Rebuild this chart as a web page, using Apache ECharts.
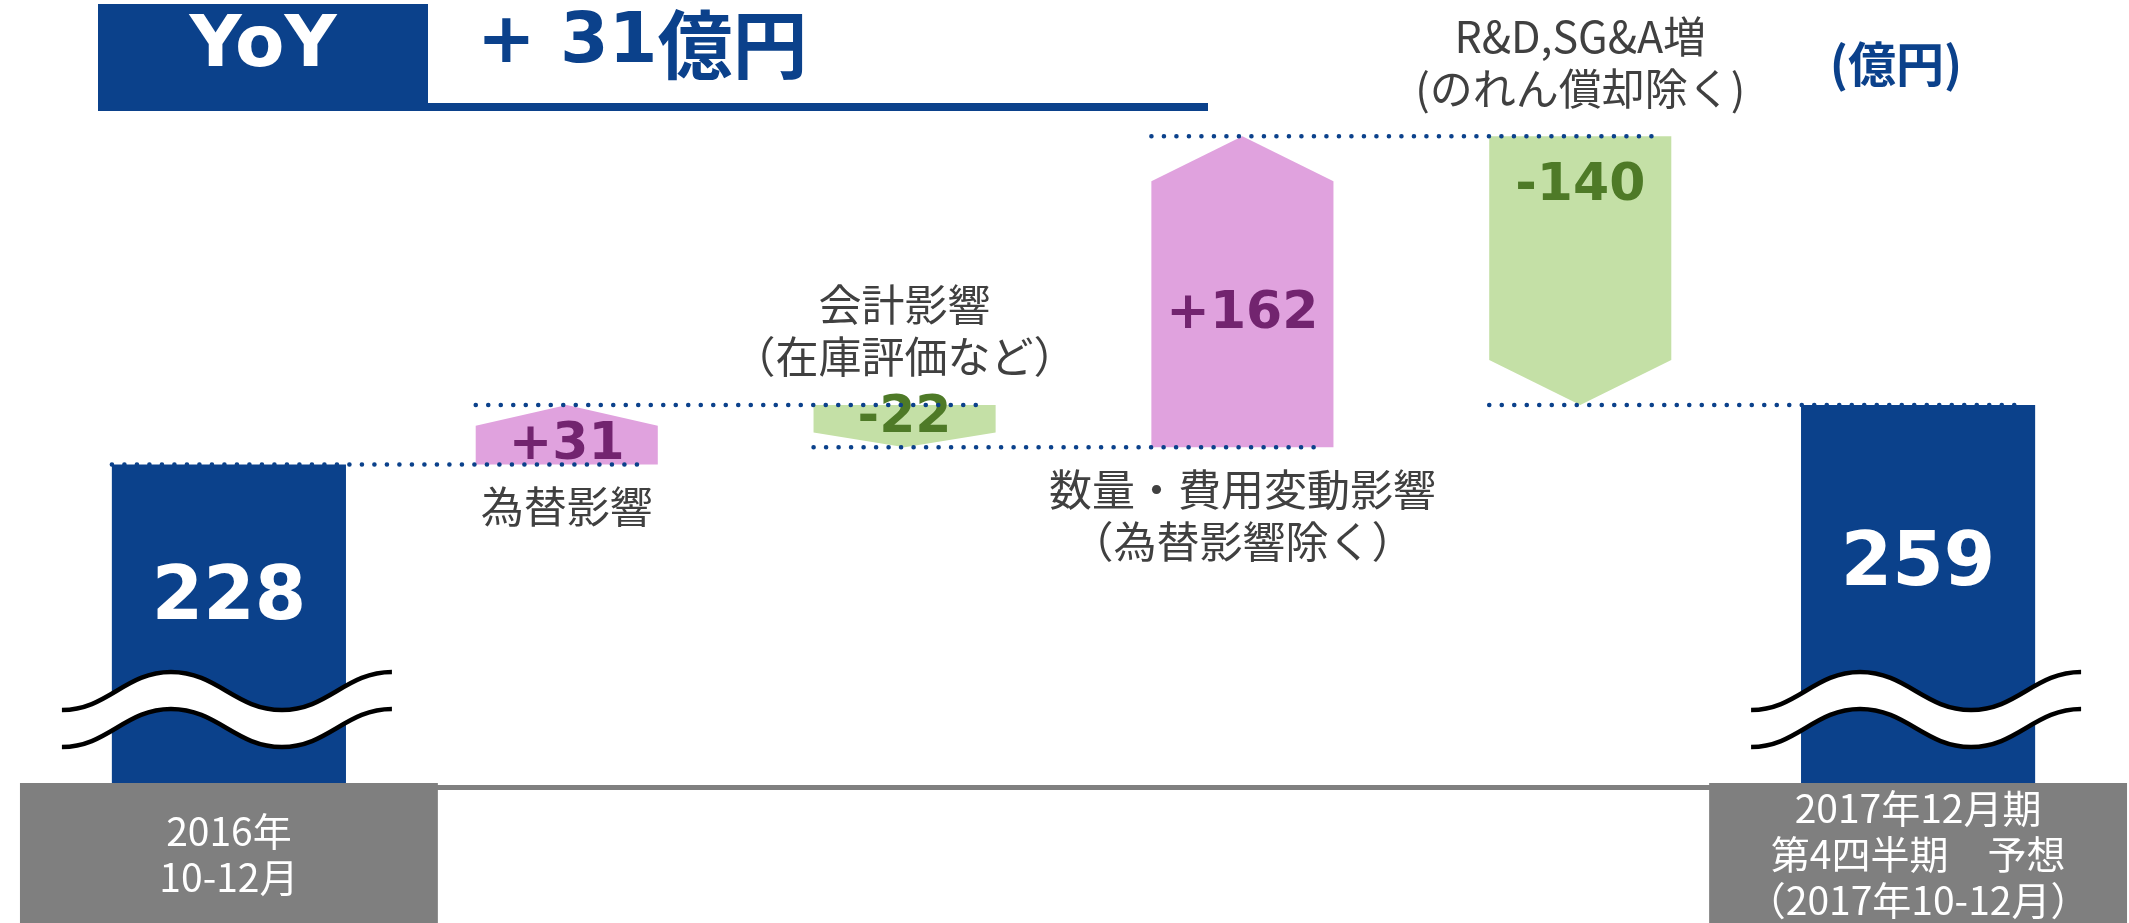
<!DOCTYPE html>
<html>
<head>
<meta charset="utf-8">
<script src="https://cdn.jsdelivr.net/npm/echarts@6.0.0/dist/echarts.min.js"></script>
<style>
html,body{margin:0;padding:0;background:#ffffff;}
#chart{width:2129px;height:923px;}
</style>
</head>
<body>
<div id="chart"></div>
<script>
// ---------- data ----------
const categories = [
  '2016年\n10-12月',
  '為替影響',
  '会計影響\n（在庫評価など）',
  '数量・費用変動影響\n（為替影響除く）',
  'R&D,SG&A増\n(のれん償却除く)',
  '2017年12月期\n第4四半期　予想\n（2017年10-12月）'
];
const startValue = 228;
const changeValues = [31, -22, 162, -140];
const endValue = 259;
const unitText = '(億円)';
const headlineTag = 'YoY';

// ---------- style ----------
const NAVY = '#0b418b', PINK = '#e0a2de', GREEN = '#c4e0a6';
const PURPLE = '#72246f', DKGREEN = '#4e7a27', GRAY = '#7f7f7f', TXT = '#404040';
const CJK = '"Noto Sans CJK JP", "Noto Sans", sans-serif';
const NUM = '"DejaVu Sans", Verdana, sans-serif';
const Y_MIN = 60, Y_MAX = 420;
const TOTAL_W = 0.693, STEP_W = 0.539;

// ---------- derived ----------
const levels = [startValue];
changeValues.forEach(v => levels.push(levels[levels.length - 1] + v));
const lastIdx = categories.length - 1;
const totalData = [[0, startValue], [lastIdx, endValue]];
const stepData = changeValues.map((v, i) => [i + 1, levels[i], levels[i + 1], v]);
const connectorData = levels.map((lv, i) => [i, lv]);
const footData = [[0], [lastIdx]];

function textEl(text, x, y, va, opt) {
  return {
    type: 'text',
    style: Object.assign({
      text: text, x: x, y: y,
      align: 'center', textAlign: 'center',
      verticalAlign: va, textVerticalAlign: va
    }, opt)
  };
}

function curveD(pts, k, first) {
  let d = (first ? 'M' : 'L') + pts[0][0] + ' ' + pts[0][1];
  for (let i = 1; i < pts.length; i++) {
    const a = pts[i - 1], b = pts[i], dx = b[0] - a[0];
    d += ' C' + (a[0] + k * dx) + ' ' + a[1] + ' ' + (b[0] - k * dx) + ' ' + b[1] + ' ' + b[0] + ' ' + b[1];
  }
  return d;
}

function breakSymbol(cx, cy) {
  const up = [[cx - 167, cy + 19], [cx - 58, cy - 19], [cx + 53, cy + 19], [cx + 163, cy - 19]];
  const lo = up.map(p => [p[0], p[1] + 37]);
  const k = 0.42;
  const fillD = curveD(up, k, true) + ' ' + curveD(lo.slice().reverse(), k, false) + ' Z';
  return [
    {type: 'path', shape: {pathData: fillD}, style: {fill: '#ffffff'}},
    {type: 'path', shape: {pathData: curveD(up, k, true)}, style: {fill: null, stroke: '#000', lineWidth: 4.5}},
    {type: 'path', shape: {pathData: curveD(lo, k, true)}, style: {fill: null, stroke: '#000', lineWidth: 4.5}}
  ];
}

function renderTotal(params, api) {
  const idx = api.value(0), v = api.value(1);
  const top = api.coord([idx, v]);
  const bot = api.coord([idx, Y_MIN]);
  const w = api.size([1, 0])[0] * TOTAL_W;
  const children = [
    {type: 'rect', shape: {x: top[0] - w / 2, y: top[1], width: w, height: bot[1] - top[1]}, style: {fill: NAVY}}
  ].concat(breakSymbol(top[0], bot[1] - 96));
  children.push(textEl(String(v), top[0], top[1] + 0.42 * (bot[1] - top[1]), 'middle',
    {fill: '#ffffff', fontSize: 74, fontWeight: 'bold', fontFamily: NUM}));
  return {type: 'group', children: children};
}

function renderStep(params, api) {
  const idx = api.value(0), from = api.value(1), to = api.value(2), delta = api.value(3);
  const p0 = api.coord([idx, from]), p1 = api.coord([idx, to]);
  const w = api.size([1, 0])[0] * STEP_W;
  const l = p0[0] - w / 2, r = p0[0] + w / 2;
  const h = Math.abs(p1[1] - p0[1]);
  const head = Math.min(h * 0.35, 45);
  const up = to > from;
  const sh = up ? p1[1] + head : p1[1] - head;
  const label = (delta > 0 ? '+' : '') + delta;
  const labelY = up ? (p0[1] + sh) / 2 : p0[1] + Math.min((sh - p0[1]) / 2, 50);
  const children = [
    {type: 'polygon', shape: {points: [[l, p0[1]], [r, p0[1]], [r, sh], [p0[0], p1[1]], [l, sh]]},
     style: {fill: up ? PINK : GREEN}},
    textEl(label, p0[0], labelY, 'middle',
      {fill: up ? PURPLE : DKGREEN, fontSize: 52, fontWeight: 'bold', fontFamily: NUM})
  ];
  const nameOpt = {fill: TXT, fontSize: 43, fontFamily: CJK, lineHeight: 52};
  if (up) children.push(textEl(categories[idx], p0[0], p0[1] + 16, 'top', nameOpt));
  else children.push(textEl(categories[idx], p0[0], p0[1] - 22, 'bottom', nameOpt));
  return {type: 'group', children: children};
}

function renderConnector(params, api) {
  const i = api.value(0), lv = api.value(1);
  const a = api.coord([i, lv]), b = api.coord([i + 1, lv]);
  const band = api.size([1, 0])[0];
  const wa = band * (i === 0 ? TOTAL_W : STEP_W);
  const wb = band * (i + 1 === lastIdx ? TOTAL_W : STEP_W);
  return {
    type: 'line',
    shape: {x1: a[0] - wa / 2, y1: a[1], x2: b[0] + wb / 2 - 10, y2: b[1]},
    style: {stroke: NAVY, lineWidth: 4.5, lineCap: 'round', lineDash: [0.1, 12.4]}
  };
}

function renderFoot(params, api) {
  const idx = api.value(0);
  const p = api.coord([idx, Y_MIN]);
  const w = api.size([1, 0])[0] * 1.237;
  const top = p[1] - 4;
  const h = api.getHeight() - top;
  return {type: 'group', children: [
    {type: 'rect', shape: {x: p[0] - w / 2, y: top, width: w, height: h}, style: {fill: GRAY}},
    textEl(categories[idx], p[0], top + h / 2 + 1, 'middle',
      {fill: '#ffffff', fontSize: 39, fontFamily: CJK, lineHeight: 46})
  ]};
}

const chart = echarts.init(document.getElementById('chart'), null, {renderer: 'canvas'});
chart.setOption({
  animation: false,
  backgroundColor: '#ffffff',
  grid: {left: 60, right: 42, top: 96, bottom: 136},
  xAxis: {
    type: 'category', data: categories,
    axisLine: {lineStyle: {color: '#808080', width: 5}},
    axisTick: {show: false}, axisLabel: {show: false}, splitLine: {show: false}
  },
  yAxis: {type: 'value', min: Y_MIN, max: Y_MAX, show: false, splitLine: {show: false}},
  graphic: [
    {type: 'rect', left: 98, top: 4, shape: {width: 330, height: 100}, style: {fill: NAVY}},
    {type: 'rect', left: 98, top: 103, shape: {width: 1110, height: 8}, style: {fill: NAVY}},
    {type: 'text', x: 263, y: 47, style: {text: headlineTag, fill: '#ffffff', fontSize: 72, fontWeight: 'bold',
      fontFamily: NUM, align: 'center', textAlign: 'center', verticalAlign: 'middle', textVerticalAlign: 'middle'}},
    {type: 'text', x: 477, y: 44, style: {
      text: '{a|+ ' + (endValue - startValue) + '}{b|億円}',
      fill: NAVY, align: 'left', textAlign: 'left', verticalAlign: 'middle', textVerticalAlign: 'middle',
      rich: {
        a: {fill: NAVY, fontSize: 70, fontWeight: 'bold', fontFamily: NUM},
        b: {fill: NAVY, fontSize: 75, fontWeight: 'bold', fontFamily: CJK}
      }}},
    {type: 'text', x: 1896, y: 64, style: {text: unitText, fill: NAVY, fontSize: 48, fontWeight: 'bold',
      fontFamily: CJK, align: 'center', textAlign: 'center', verticalAlign: 'middle', textVerticalAlign: 'middle'}}
  ],
  series: [
    {type: 'custom', name: 'total', data: totalData, renderItem: renderTotal, z: 2, silent: true},
    {type: 'custom', name: 'change', data: stepData, renderItem: renderStep, z: 2, silent: true,
     encode: {x: 0, y: [1, 2]}},
    {type: 'custom', name: 'connector', data: connectorData, renderItem: renderConnector, z: 4, silent: true},
    {type: 'custom', name: 'period', data: footData, renderItem: renderFoot, z: 5, silent: true}
  ]
});
</script>
</body>
</html>
